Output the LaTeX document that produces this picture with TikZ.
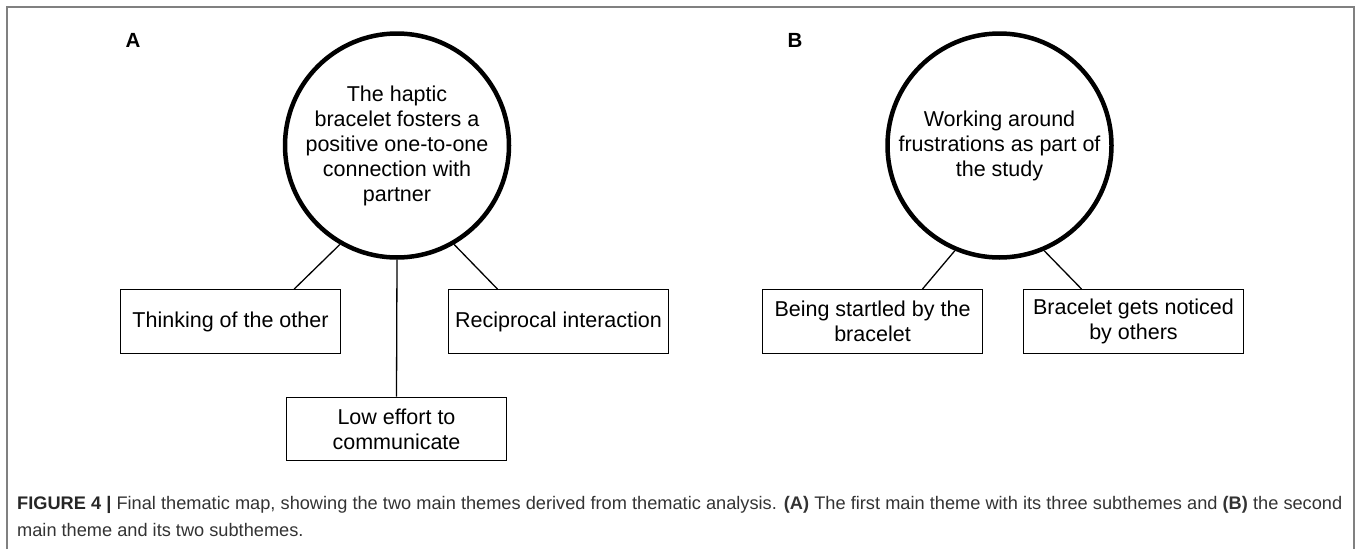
\documentclass[tikz,border=0pt]{standalone}
\usepackage{fontspec}
\setmainfont{Liberation Sans}
\definecolor{framegray}{HTML}{808080}
\definecolor{captext}{HTML}{333333}

\tikzset{
  theme/.style={draw,circle,line width=4.5pt,minimum size=224pt,inner sep=0pt,
    align=center,font=\fontsize{21.5}{25}\selectfont},
  subtheme/.style={draw,rectangle,line width=1.4pt,minimum width=219.5pt,
    minimum height=63.5pt,align=center,font=\fontsize{21.5}{25}\selectfont},
  link/.style={line width=1.3pt},
  panel/.style={font=\fontsize{20.5}{24}\selectfont\bfseries},
  caption/.style={anchor=base west,inner sep=0pt,captext,font=\fontsize{18.2}{27}\selectfont}
}

\begin{document}
\begin{tikzpicture}[x=1pt,y=-1pt]
  \useasboundingbox (0,0) rectangle (1360,549);
  \draw [framegray,line width=1.5pt] (7,549) -- (7,7) -- (1354,7) -- (1354,549);
  % panel A
  \node [panel] (LA) at (133,40) {A};
  \node [theme] (mainA) at (397,145.5) {The haptic\\bracelet fosters a\\positive one-to-one\\connection with\\partner};
  \node [subtheme] (thinking) at (230.5,321.5) {Thinking of the other};
  \node [subtheme] (reciprocal) at (558.5,321.5) {Reciprocal interaction};
  \node [subtheme] (effort) at (396.5,429) {Low effort to\\communicate};
  \draw [link] (mainA.240) -- (thinking.27);
  \draw [link] (mainA.south) -- (effort.north);
  \draw [link] (mainA.300) -- (reciprocal.152);
  % panel B
  \node [panel] (LB) at (795,40) {B};
  \node [theme] (mainB) at (999.5,145.5) {Working around\\frustrations as part of\\the study};
  \node [subtheme] (startled) at (872.5,321.5) {Being startled by the\\bracelet};
  \node [subtheme] (noticed) at (1133.5,321.5) {Bracelet gets noticed\\by others};
  \draw [link] (mainB.247) -- (startled.33);
  \draw [link] (mainB.293) -- (noticed.148);
  % caption
  \node [caption] (cap1) at (17,509)
    {\makebox[1325pt][s]{\textbf{\color{black!85}FIGURE 4 |} Final thematic map, showing the two main themes derived from thematic analysis. \textbf{(A)} The first main theme with its three subthemes and \textbf{(B)} the second}};
  \node [caption] (cap2) at (17,536) {main theme and its two subthemes.};
\end{tikzpicture}
\end{document}
